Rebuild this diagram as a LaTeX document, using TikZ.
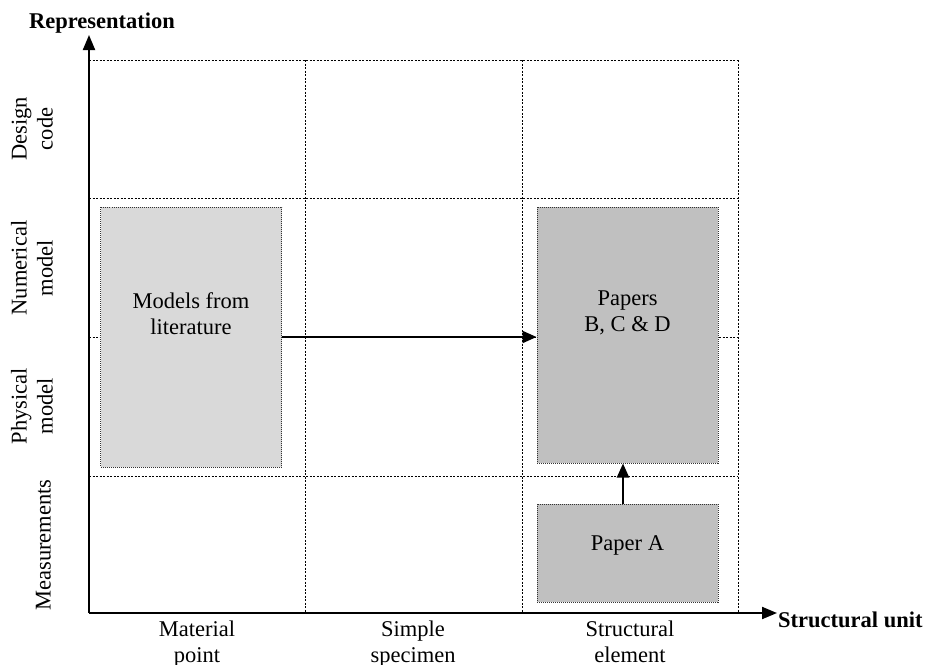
\documentclass[tikz,border=0pt]{standalone}
\usepackage{fontspec}
\setmainfont{Liberation Serif}
\usetikzlibrary{arrows.meta}
\definecolor{lightbox}{HTML}{D9D9D9}
\definecolor{darkbox}{HTML}{C0C0C0}
\tikzset{
  txt/.style={font=\fontsize{22.5}{26}\selectfont, align=center, inner sep=0pt},
  gridline/.style={line width=0.9pt, dash pattern=on 2pt off 1.5pt},
  paperbox/.style={draw=black!80, line width=1pt, dash pattern=on 1pt off 1pt, inner sep=0pt},
  axis/.style={line width=2pt, -{Triangle[length=15pt,width=12pt]}},
  link/.style={line width=2pt, -{Triangle[length=14pt,width=12pt]}}
}
\begin{document}
\begin{tikzpicture}[x=1pt, y=-1pt]
  \useasboundingbox (0,0) rectangle (933,664);
  % Griglia
  \foreach \x in {305,522,738} \draw[gridline] (\x,60) -- (\x,613);
  \foreach \y in {60,198,337,476} \draw[gridline] (89,\y) -- (738,\y);
  % Assi
  \coordinate (O) at (89,613);
  \coordinate (ytop) at (89,35);
  \coordinate (xend) at (777,613);
  \draw[axis] (O) -- (ytop);
  \draw[axis] (O) -- (xend);
  \node[txt, font=\fontsize{22.5}{26}\selectfont\bfseries, anchor=base] (ylab) at (102,28) {Representation};
  \node[txt, font=\fontsize{22.5}{26}\selectfont\bfseries, anchor=base west] (xlab) at (778,627) {Structural unit};
  % Righe e colonne
  \node[txt, rotate=90, anchor=south] (design) at (53,129) {Design\\code};
  \node[txt, rotate=90, anchor=south] (numerical) at (53,268) {Numerical\\model};
  \node[txt, rotate=90, anchor=south] (physical) at (53,406) {Physical\\model};
  \node[txt, rotate=90, anchor=south] (meas) at (51,545) {Measurements};
  \node[txt, anchor=north] (material) at (197,621) {Material\\point};
  \node[txt, anchor=north] (simple) at (413,621) {Simple\\specimen};
  \node[txt, anchor=north] (element) at (630,621) {Structural\\element};
  % Scatole
  \node[paperbox, fill=lightbox, minimum width=181pt, minimum height=260pt] (models) at (191,337) {};
  \node[paperbox, fill=darkbox, minimum width=181pt, minimum height=256pt] (papers) at (627.5,335) {};
  \node[paperbox, fill=darkbox, minimum width=181pt, minimum height=98pt] (paperA) at (627.5,553) {};
  \node[txt] (modelstxt) at ([yshift=23pt]models.center) {Models from\\literature};
  \node[txt] (paperstxt) at ([yshift=22pt]papers.center) {Papers\\B, C \& D};
  \node[txt] (paperAtxt) at ([yshift=8pt]paperA.center) {Paper A};
  % Frecce
  \draw[link] (models.east) -- (models.east -| papers.west);
  \draw[link] ([xshift=-4.5pt]paperA.north) -- ([xshift=-4.5pt]papers.south);
\end{tikzpicture}
\end{document}
